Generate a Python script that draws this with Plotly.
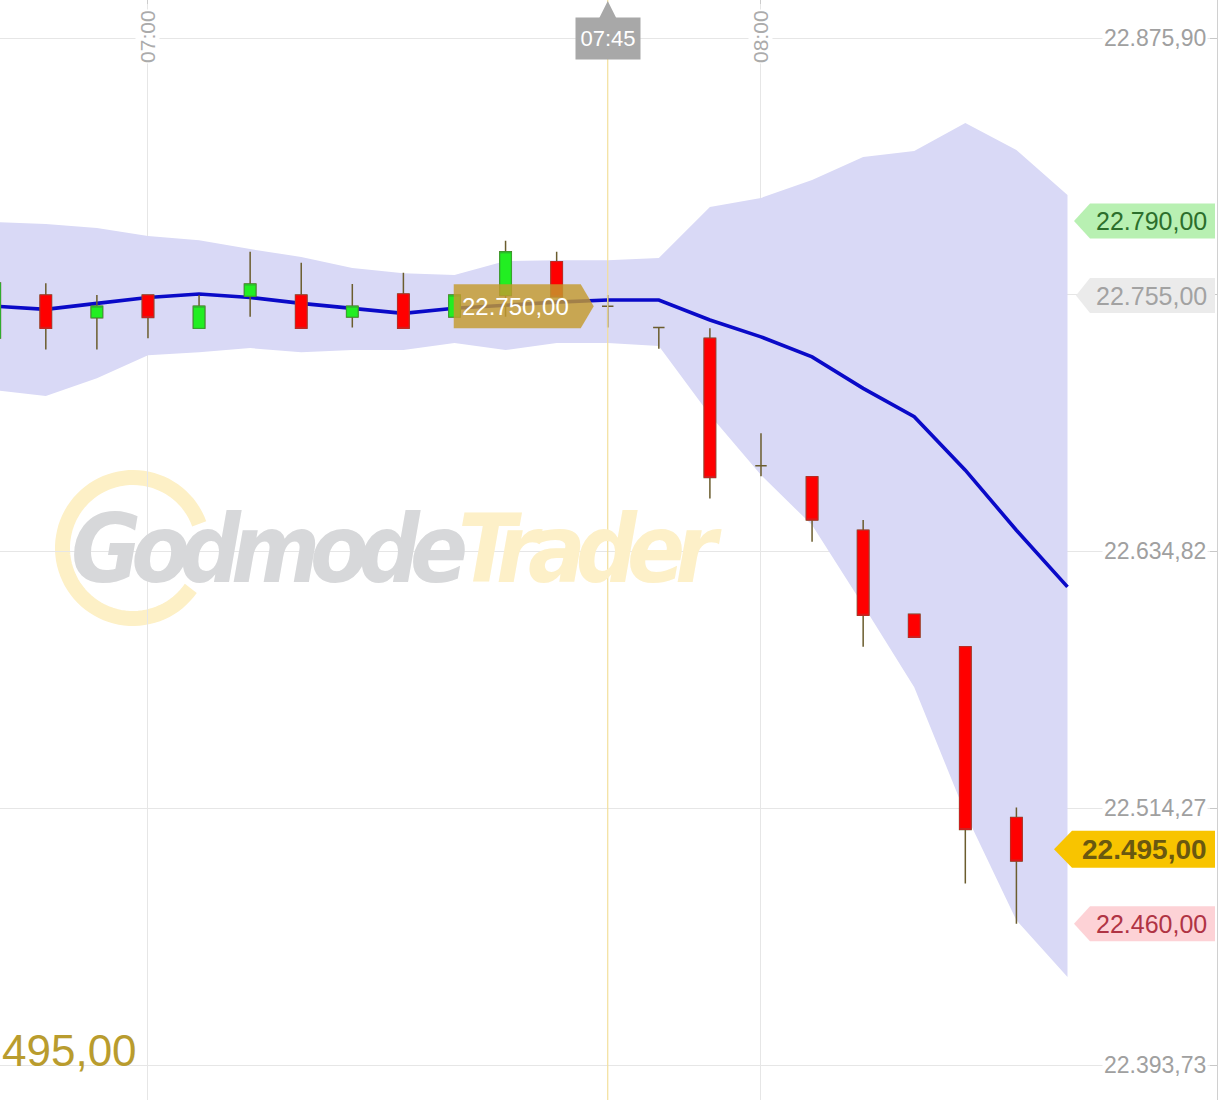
import numpy as np
import plotly.graph_objects as go

DAY = "2024-03-15 "

# ---------------- data ----------------
candle_times = ["06:45", "06:50", "06:55", "07:00", "07:05", "07:10", "07:15", "07:20", "07:25", "07:30",
                "07:35", "07:40", "07:45", "07:50", "07:55", "08:00", "08:05", "08:10", "08:15", "08:20", "08:25"]
opens = [22735.0, 22755.2, 22744.6, 22755.2, 22739.6, 22754.7, 22755.2, 22744.9, 22755.7, 22744.9,
         22755.0, 22770.9, 22750.0, 22740.0, 22734.9, 22675.1, 22669.9, 22644.8, 22605.3, 22590.1, 22509.9]
highs = [22760.9, 22760.7, 22755.2, 22755.2, 22755.2, 22775.5, 22770.4, 22760.4, 22765.7, 22755.2,
         22780.7, 22775.5, 22755.2, 22740.0, 22739.6, 22690.3, 22669.9, 22649.6, 22605.3, 22590.1, 22514.6]
lows = [22735.0, 22729.7, 22729.7, 22734.9, 22739.6, 22745.0, 22739.6, 22740.0, 22739.6, 22744.9,
        22745.0, 22754.4, 22740.0, 22730.0, 22659.7, 22670.2, 22639.4, 22590.1, 22594.5, 22479.0, 22460.0]
closes = [22760.9, 22739.6, 22750.0, 22744.7, 22750.0, 22760.4, 22739.6, 22750.0, 22739.6, 22755.2,
          22775.5, 22754.4, 22750.0, 22740.0, 22669.6, 22675.1, 22649.6, 22604.9, 22594.5, 22504.3, 22489.5]

band_times = candle_times + ["08:30"]
ma_values = [22750.0, 22748.5, 22751.3, 22754.1, 22755.7, 22754.1, 22751.3, 22749.1, 22746.6, 22749.0, 22750.5,
             22751.9, 22752.9, 22752.9, 22743.5, 22735.6, 22726.2, 22711.4, 22698.1, 22673.0, 22644.8, 22618.2]
band_upper = [22789.5, 22788.6, 22786.7, 22782.9, 22781.0, 22776.8, 22773.1, 22767.9, 22765.5, 22764.6, 22771.2,
              22771.6, 22771.6, 22772.6, 22796.5, 22800.8, 22809.2, 22820.0, 22822.8, 22836.0, 22823.3, 22802.2]
band_lower = [22710.6, 22707.8, 22716.2, 22727.0, 22728.4, 22730.3, 22728.4, 22729.4, 22729.4, 22732.7, 22729.4,
              22732.7, 22732.7, 22731.3, 22698.9, 22670.7, 22647.2, 22609.6, 22571.1, 22511.9, 22461.7, 22435.0]

y_grid_vals = [22875.90, 22755.36, 22634.82, 22514.27, 22393.73]
y_label_vals = [22875.90, 22634.82, 22514.27, 22393.73]
y_label_text = ["22.875,90", "22.634,82", "22.514,27", "22.393,73"]

x_tick_times = ["07:00", "08:00"]
x_tick_text = ["07:00", "08:00"]

cross_time = "07:45"
cross_price = 22750.0
cross_price_text = "22.750,00"

tag_vals = [22790.0, 22755.0, 22495.0, 22460.0]
tag_text = ["22.790,00", "22.755,00", "22.495,00", "22.460,00"]

last_price_text = "495,00"
watermark_a = "Godmode"
watermark_b = "Trader"

x_range = ["06:45:31", "08:44:38"]
y_range = [22377.30, 22893.74]

# ---------------- figure ----------------
W, H = 1223, 1100
ML, MR = 0, 6
PW = W - ML - MR
FONT = "Liberation Sans, Arial, sans-serif"


def t(s):
    return DAY + s


def px2paper_x(px):
    return (px - ML) / PW


def px2paper_y(py):
    return 1 - py / H


fig = go.Figure()

# band (base subplot)
fig.add_trace(go.Scatter(x=[t(s) for s in band_times], y=band_lower, mode="lines",
                         line=dict(width=0, color="rgba(0,0,0,0)"), hoverinfo="skip"))
fig.add_trace(go.Scatter(x=[t(s) for s in band_times], y=band_upper, mode="lines", fill="tonexty",
                         fillcolor="#d9d9f6", line=dict(width=0, color="rgba(0,0,0,0)"), hoverinfo="skip"))
# moving average
fig.add_trace(go.Scatter(x=[t(s) for s in band_times], y=ma_values, mode="lines",
                         line=dict(color="#0a0ac8", width=3.6), hoverinfo="skip"))

wick_col = "#6b5d2e"
# candles on an overlaying subplot so they sit above the band
fig.add_trace(go.Candlestick(
    x=[t(s) for s in candle_times], open=opens, high=highs, low=lows, close=closes,
    increasing=dict(line=dict(color=wick_col, width=1.5), fillcolor="#22ee22"),
    decreasing=dict(line=dict(color=wick_col, width=1.5), fillcolor="#ff0000"),
    whiskerwidth=0, hoverinfo="skip", xaxis="x2", yaxis="y2"))
b_open, b_close, b_high, b_low = [], [], [], []
for o, c in zip(opens, closes):
    if o == c:
        b_open.append(None); b_close.append(None); b_high.append(None); b_low.append(None)
    else:
        b_open.append(o); b_close.append(c); b_high.append(max(o, c)); b_low.append(min(o, c))
fig.add_trace(go.Candlestick(
    x=[t(s) for s in candle_times], open=b_open, high=b_high, low=b_low, close=b_close,
    increasing=dict(line=dict(color="#2fae2f", width=1), fillcolor="#22ee22"),
    decreasing=dict(line=dict(color="#cc2222", width=1), fillcolor="#ff0000"),
    whiskerwidth=0, hoverinfo="skip", xaxis="x2", yaxis="y2"))

shapes = []
annotations = []

# crosshair vertical
shapes.append(dict(type="line", xref="x", yref="paper", x0=t(cross_time), x1=t(cross_time), y0=0, y1=1,
                   line=dict(color="#f3df9c", width=1.2), layer="above"))

# watermark ring
ang = np.radians(np.linspace(20, 325, 80))
r = 70.5
pts = [f"{r*np.cos(a):.1f},{r*np.sin(a):.1f}" for a in ang]
ring_path = "M " + " L ".join(pts)
shapes.append(dict(type="path", xref="paper", yref="paper", xsizemode="pixel", ysizemode="pixel",
                   xanchor=px2paper_x(133), yanchor=px2paper_y(548), path=ring_path,
                   line=dict(color="#fdf0c6", width=15), layer="below"))

annotations.append(dict(
    x=px2paper_x(396), y=px2paper_y(549), xref="paper", yref="paper", xanchor="center", yanchor="middle",
    text=(f"<b><i><span style='color:#d7d8da;letter-spacing:-10px'>{watermark_a}</span>"
          f"<span style='color:#fdf0c8;letter-spacing:-10px'>{watermark_b}</span></i></b>"),
    showarrow=False, font=dict(family="DejaVu Sans Condensed, Liberation Sans Narrow, Liberation Sans, sans-serif",
                               size=95)))

# right y labels
for v, s in zip(y_label_vals, y_label_text):
    annotations.append(dict(x=px2paper_x(1208), y=v, xref="paper", yref="y", xanchor="right", yanchor="middle",
                            text=s, showarrow=False, bgcolor="white", borderpad=1,
                            font=dict(family=FONT, size=23, color="#a0a0a0")))

# x labels (rotated, at top)
for ts, s in zip(x_tick_times, x_tick_text):
    annotations.append(dict(x=t(ts), y=px2paper_y(36), xref="x", yref="paper", xanchor="center", yanchor="middle",
                            text=s, textangle=-90, showarrow=False, bgcolor="white", borderpad=0,
                            font=dict(family=FONT, size=21, color="#ababab")))

# 07:45 time marker
annotations.append(dict(x=t(cross_time), y=1, xref="x", yref="paper", text=cross_time, showarrow=True,
                        ax=0, ay=38, arrowhead=2, arrowsize=1.7, arrowwidth=2, arrowcolor="#a8a8a8",
                        standoff=0, bgcolor="#a8a8a8", width=64, height=41, borderpad=0,
                        font=dict(family=FONT, size=22, color="white")))

# crosshair price tag
shapes.append(dict(type="path", xref="x", yref="y", xsizemode="pixel", ysizemode="pixel",
                   xanchor=t(cross_time), yanchor=cross_price,
                   path="M -154,22 L -27,22 L -14,0 L -27,-22 L -154,-22 Z",
                   fillcolor="rgba(196,155,45,0.82)", line=dict(width=0), layer="above"))
annotations.append(dict(x=t(cross_time), y=cross_price, xref="x", yref="y", xshift=-92, xanchor="center",
                        yanchor="middle", text=cross_price_text, showarrow=False,
                        font=dict(family=FONT, size=24, color="white")))

# right price tags
tag_styles = [
    dict(bg="#b8f0b2", fg="#2c6e2c", tip=-143, xl=-127, h=17.5, bold=False, size=25),
    dict(bg="#ebebeb", fg="#a2a2a2", tip=-141, xl=-127, h=17.5, bold=False, size=25),
    dict(bg="#f8c400", fg="#6a5810", tip=-163, xl=-145, h=18.5, bold=True, size=28),
    dict(bg="#fdd2d6", fg="#b03444", tip=-143, xl=-127, h=17.5, bold=False, size=25),
]
for v, s, st in zip(tag_vals, tag_text, tag_styles):
    h = st["h"]
    shapes.append(dict(type="path", xref="paper", yref="y", xsizemode="pixel", ysizemode="pixel",
                       xanchor=1, yanchor=v,
                       path=f"M -2,{h} L {st['xl']},{h} L {st['tip']},0 L {st['xl']},{-h} L -2,{-h} Z",
                       fillcolor=st["bg"], line=dict(width=0), layer="above"))
    txt = f"<b>{s}</b>" if st["bold"] else s
    annotations.append(dict(x=px2paper_x(1209), y=v, xref="paper", yref="y", xanchor="right", yanchor="middle",
                            text=txt, showarrow=False,
                            font=dict(family=FONT, size=st["size"], color=st["fg"])))

# big last price at bottom left
annotations.append(dict(x=px2paper_x(0), y=px2paper_y(1050), xref="paper", yref="paper", xanchor="left",
                        yanchor="middle", text=last_price_text, showarrow=False,
                        font=dict(family=FONT, size=44, color="#b99c2e")))

xa = dict(type="date", range=[t(x_range[0]), t(x_range[1])], fixedrange=True)
ya = dict(range=y_range, fixedrange=True)

fig.update_layout(
    width=W, height=H, margin=dict(l=ML, r=MR, t=0, b=0, pad=0),
    paper_bgcolor="white", plot_bgcolor="white", showlegend=False,
    boxgap=0.68,
    shapes=shapes, annotations=annotations,
    xaxis=dict(**xa, side="top",
               tickvals=[t(s) for s in x_tick_times], showticklabels=False, ticks="inside", ticklen=4,
               tickcolor="#cccccc", showgrid=True, gridcolor="#e6e6e6", gridwidth=1, zeroline=False,
               showline=False, rangeslider=dict(visible=False)),
    yaxis=dict(**ya, side="right", tickvals=y_grid_vals, showticklabels=False, ticks="inside",
               ticklen=7, tickcolor="#c8c8c8", showgrid=True, gridcolor="#e6e6e6", gridwidth=1,
               zeroline=False, showline=True, linecolor="#d0d0d0", linewidth=1),
    xaxis2=dict(**xa, overlaying="x", visible=False, showgrid=False, rangeslider=dict(visible=False)),
    yaxis2=dict(**ya, overlaying="y", visible=False, showgrid=False),
)

fig.write_html("out.html", config={"displayModeBar": False},
               post_script="document.body.style.margin='0';document.body.style.padding='0';")
